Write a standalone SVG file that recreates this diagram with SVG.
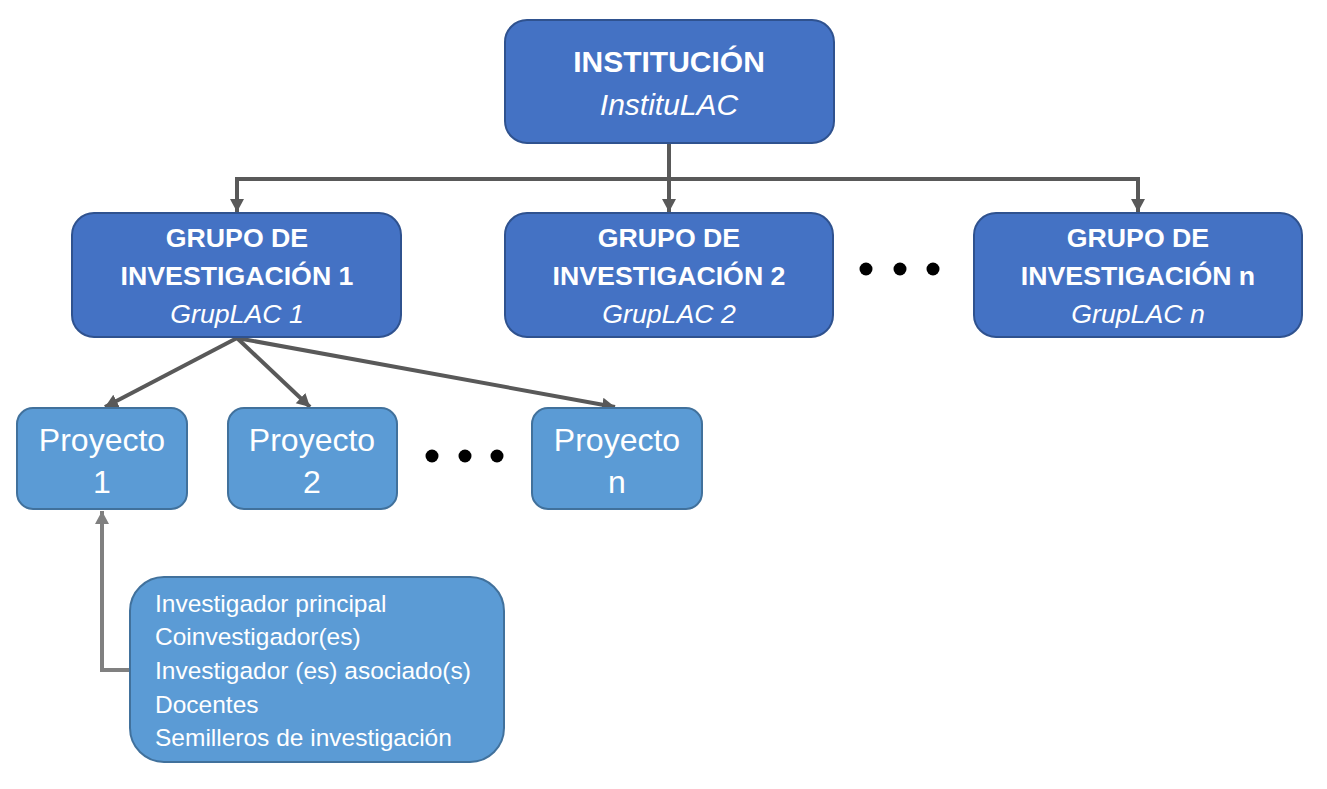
<svg xmlns="http://www.w3.org/2000/svg" width="1327" height="789" viewBox="0 0 1327 789">
<style>
.main{fill:#4472C4;stroke:#2F528F;stroke-width:2}
.sub{fill:#5B9BD5;stroke:#41719C;stroke-width:2}
.t{font-family:"Liberation Sans",Arial,sans-serif;fill:#fff;text-anchor:middle}
.b{font-weight:bold}
.i{font-style:italic}
.l{font-family:"Liberation Sans",Arial,sans-serif;fill:#fff;font-size:24.5px}
.c{fill:none;stroke:#595959;stroke-width:4}
.g{fill:none;stroke:#808080;stroke-width:4}
</style>
<defs>
<marker id="ad" markerUnits="userSpaceOnUse" markerWidth="16" markerHeight="16" refX="13" refY="8" orient="auto"><path d="M0,1 L13,8 L0,15 z" fill="#595959"/></marker>
<marker id="ag" markerUnits="userSpaceOnUse" markerWidth="16" markerHeight="16" refX="13" refY="8" orient="auto"><path d="M0,1 L13,8 L0,15 z" fill="#808080"/></marker>
</defs>
<rect width="1327" height="789" fill="#fff"/>
<g id="connectors">
<path class="c" d="M669,143 V179"/>
<path class="c" d="M237,179 H1138"/>
<path class="c" d="M237,177 V212" marker-end="url(#ad)"/>
<path class="c" d="M669,179 V212" marker-end="url(#ad)"/>
<path class="c" d="M1138,177 V212" marker-end="url(#ad)"/>
<path class="c" d="M237,338 L105,407" marker-end="url(#ad)"/>
<path class="c" d="M237,338 L310,407" marker-end="url(#ad)"/>
<path class="c" d="M237,338 L615,407" marker-end="url(#ad)"/>
<path class="g" d="M130,670 H102 V511" marker-end="url(#ag)"/>
</g>
<g id="institucion">
<rect class="main" x="505" y="20" width="329" height="123" rx="22"/>
<text class="t b" x="669" y="72" font-size="30">INSTITUCIÓN</text>
<text class="t i" x="669" y="115" font-size="30">InstituLAC</text>
</g>
<g id="grupo1">
<rect class="main" x="72" y="213" width="329" height="124" rx="22"/>
<text class="t b" x="237" y="247" font-size="26.7">GRUPO DE</text>
<text class="t b" x="237" y="285" font-size="26.7">INVESTIGACIÓN 1</text>
<text class="t i" x="237" y="323" font-size="26.7">GrupLAC 1</text>
</g>
<g id="grupo2">
<rect class="main" x="505" y="213" width="328" height="124" rx="22"/>
<text class="t b" x="669" y="247" font-size="26.7">GRUPO DE</text>
<text class="t b" x="669" y="285" font-size="26.7">INVESTIGACIÓN 2</text>
<text class="t i" x="669" y="323" font-size="26.7">GrupLAC 2</text>
</g>
<g id="dots-grupos">
<circle cx="866" cy="269" r="6.5"/>
<circle cx="900" cy="269" r="6.5"/>
<circle cx="933" cy="269" r="6.5"/>
</g>
<g id="grupon">
<rect class="main" x="974" y="213" width="328" height="124" rx="22"/>
<text class="t b" x="1138" y="247" font-size="26.7">GRUPO DE</text>
<text class="t b" x="1138" y="285" font-size="26.7">INVESTIGACIÓN n</text>
<text class="t i" x="1138" y="323" font-size="26.7">GrupLAC n</text>
</g>
<g id="proyecto1">
<rect class="sub" x="17" y="408" width="170" height="101" rx="16"/>
<text class="t" x="102" y="451" font-size="32">Proyecto</text>
<text class="t" x="102" y="493" font-size="32">1</text>
</g>
<g id="proyecto2">
<rect class="sub" x="228" y="408" width="169" height="101" rx="16"/>
<text class="t" x="312" y="451" font-size="32">Proyecto</text>
<text class="t" x="312" y="493" font-size="32">2</text>
</g>
<g id="dots-proyectos">
<circle cx="432" cy="456" r="6.5"/>
<circle cx="465" cy="456" r="6.5"/>
<circle cx="497" cy="456" r="6.5"/>
</g>
<g id="proyecton">
<rect class="sub" x="532" y="408" width="170" height="101" rx="16"/>
<text class="t" x="617" y="451" font-size="32">Proyecto</text>
<text class="t" x="617" y="493" font-size="32">n</text>
</g>
<g id="miembros">
<rect class="sub" x="130" y="577" width="374" height="185" rx="34"/>
<text class="l" x="155" y="612">Investigador principal</text>
<text class="l" x="155" y="645">Coinvestigador(es)</text>
<text class="l" x="155" y="679">Investigador (es) asociado(s)</text>
<text class="l" x="155" y="713">Docentes</text>
<text class="l" x="155" y="746">Semilleros de investigación</text>
</g>
</svg>
